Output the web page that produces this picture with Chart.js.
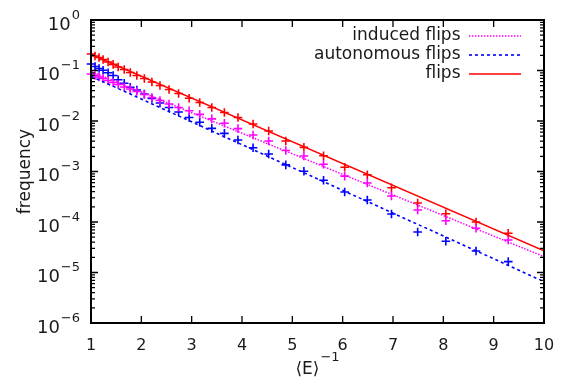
<!DOCTYPE html>
<html>
<head>
<meta charset="utf-8">
<script src="https://cdn.jsdelivr.net/npm/chart.js@4"></script>
<style>
  html, body { margin: 0; padding: 0; background: #fff; }
  #wrap { width: 567px; height: 386px; position: relative; }
</style>
</head>
<body>
<div id="wrap"><canvas id="flipChart"></canvas></div>
<script>
// data
const xVals = [1.00, 1.08, 1.16, 1.24, 1.34, 1.44, 1.54, 1.66, 1.78, 1.91, 2.06, 2.21, 2.37, 2.55, 2.74, 2.95,
               3.16, 3.40, 3.65, 3.92, 4.22, 4.53, 4.87, 5.23, 5.62, 6.04, 6.49, 6.97, 7.49, 8.05, 8.65, 9.29];
const flips = [0.212, 0.194, 0.181, 0.165, 0.147, 0.132, 0.117, 0.105, 0.0913, 0.0796, 0.0694, 0.0592, 0.0504, 0.0421, 0.0351, 0.0282,
               0.0232, 0.0185, 0.0147, 0.0117, 0.00872, 0.00634, 0.00402, 0.00301, 0.00205, 0.00121, 0.00086, 0.000478, 0.000238, 0.000146, 0.000100, 0.0000597];
const induced = [0.0853, 0.0796, 0.0744, 0.0694, 0.0634, 0.0579, 0.0528, 0.0471, 0.0430, 0.0384, 0.0335, 0.0292, 0.0255, 0.0217, 0.0185, 0.0160,
                 0.0135, 0.0110, 0.0090, 0.00705, 0.00528, 0.00402, 0.00261, 0.00203, 0.00139, 0.00081, 0.00059, 0.000327, 0.000173, 0.000106, 0.000075, 0.000044];
const autonomous = [0.1345, 0.120, 0.1096, 0.1014, 0.0900, 0.0796, 0.0654, 0.0561, 0.0465, 0.0411, 0.0343, 0.0279, 0.0227, 0.0185, 0.0151, 0.0117,
                    0.00942, 0.00716, 0.00570, 0.00421, 0.00296, 0.00222, 0.00135, 0.00101, 0.00067, 0.000393, 0.000273, 0.000144, 0.0000634, 0.0000415, 0.0000267, 0.0000164];

// fitted lines (end points)
const fitX = [1, 10];
const flipsFit = [0.207, 0.000027];
const inducedFit = [0.0955, 0.0000206];
const autonomousFit = [0.077, 0.0000066];

// y tick labels: 10 with an exponent
const yTicks = [1e-6, 1e-5, 1e-4, 1e-3, 1e-2, 1e-1, 1];
const yTickExps = ['−6', '−5', '−4', '−3', '−2', '−1', '0'];
const xTitle = '⟨E⟩';
const xTitleExp = '−1';

const FONT = "'DejaVu Sans', sans-serif";
const toXY = (xs, ys) => xs.map((x, i) => ({ x: x, y: ys[i] }));

Chart.defaults.font.family = FONT;
Chart.defaults.color = '#1a1a1a';

function fitSet(label, ys, color, width, dash) {
    return { label: label, data: toXY(fitX, ys), showLine: true, borderColor: color, backgroundColor: color,
             borderWidth: width, borderDash: dash, pointRadius: 0, pointStyle: 'line', fill: false };
}
function pointSet(label, ys, color) {
    return { label: label, data: toXY(xVals, ys), showLine: false, borderColor: color, backgroundColor: color,
             pointStyle: 'cross', pointRadius: 4.3, borderWidth: 1.6, clip: false, isPoints: true };
}

// inward tick marks + closed frame, gnuplot style
const frameTicks = {
    id: 'frameTicks',
    afterDatasetsDraw(chart) {
        const { ctx, chartArea: a, scales: { x, y } } = chart;
        ctx.save();
        ctx.strokeStyle = '#000';
        ctx.lineWidth = 1.3;
        ctx.beginPath();
        x.ticks.forEach(t => {
            const px = x.getPixelForValue(t.value);
            ctx.moveTo(px, a.bottom); ctx.lineTo(px, a.bottom - 7);
            ctx.moveTo(px, a.top); ctx.lineTo(px, a.top + 7);
        });
        y.ticks.forEach(t => {
            const py = y.getPixelForValue(t.value);
            ctx.moveTo(a.left, py); ctx.lineTo(a.left + 7, py);
            ctx.moveTo(a.right, py); ctx.lineTo(a.right - 7, py);
        });
        for (let d = 0; d < yTicks.length - 1; d++) {
            for (let k = 2; k < 10; k++) {
                const py = y.getPixelForValue(yTicks[d] * k);
                ctx.moveTo(a.left, py); ctx.lineTo(a.left + 4, py);
                ctx.moveTo(a.right, py); ctx.lineTo(a.right - 4, py);
            }
        }
        ctx.stroke();
        ctx.lineWidth = 2;
        ctx.strokeRect(a.left, a.top, a.width, a.height);
        ctx.restore();
    }
};

// y tick labels and x title with real superscripts
const supLabels = {
    id: 'supLabels',
    afterDraw(chart) {
        const { ctx, chartArea: a, scales: { y } } = chart;
        ctx.save();
        ctx.fillStyle = '#1a1a1a';
        ctx.textBaseline = 'alphabetic';
        ctx.textAlign = 'left';
        yTicks.forEach((v, i) => {
            const py = y.getPixelForValue(v);
            ctx.font = '13px ' + FONT;
            const ew = ctx.measureText(yTickExps[i]).width;
            ctx.font = '18px ' + FONT;
            const bw = ctx.measureText('10').width;
            const right = a.left - 11;
            ctx.fillText('10', right - ew - bw - 1, py + 9.5);
            ctx.font = '13px ' + FONT;
            ctx.fillText(yTickExps[i], right - ew, py - 1.5);
        });
        ctx.font = '17px ' + FONT;
        const tw = ctx.measureText(xTitle).width;
        ctx.font = '13px ' + FONT;
        const ew = ctx.measureText(xTitleExp).width;
        const cx = (a.left + a.right) / 2;
        const x0 = cx - (tw + ew + 1) / 2;
        ctx.font = '17px ' + FONT;
        ctx.fillText(xTitle, x0, 374);
        ctx.font = '13px ' + FONT;
        ctx.fillText(xTitleExp, x0 + tw + 1, 361);
        ctx.restore();
    }
};

// move the legend box to the top right corner inside the plot
const legendCorner = {
    id: 'legendCorner',
    afterLayout(chart) {
        const lg = chart.legend;
        const a = chart.chartArea;
        lg.left = a.right - 23 + 2 - lg.width;
        lg.right = lg.left + lg.width;
        lg.top = a.top + 5.5;
        lg.bottom = a.bottom;
    }
};

new Chart(document.getElementById('flipChart'), {
    type: 'scatter',
    data: {
        datasets: [
            fitSet('induced flips', inducedFit, '#ff00ff', 1.5, [1.5, 1.5]),
            fitSet('autonomous flips', autonomousFit, '#0000ff', 1.6, [3, 3]),
            fitSet('flips', flipsFit, '#ff0000', 1.5, []),
            pointSet('induced', induced, '#ff00ff'),
            pointSet('autonomous', autonomous, '#0000ff'),
            pointSet('all', flips, '#ff0000')
        ]
    },
    options: {
        responsive: true,
        maintainAspectRatio: false,
        animation: false,
        layout: { padding: { left: 0, right: 23, top: 20, bottom: 0 } },
        plugins: {
            tooltip: { enabled: false },
            legend: {
                position: 'chartArea',
                align: 'start',
                rtl: true,
                labels: {
                    usePointStyle: true,
                    pointStyle: 'line',
                    pointStyleWidth: 52,
                    padding: 2,
                    font: { size: 17 },
                    color: '#1a1a1a',
                    generateLabels: chart => Chart.defaults.plugins.legend.labels.generateLabels(chart).map(item => {
                        const ds = chart.data.datasets[item.datasetIndex];
                        item.lineDash = ds.borderDash;
                        item.lineWidth = ds.borderWidth;
                        item.strokeStyle = ds.borderColor;
                        return item;
                    }),
                    filter: (item, data) => !data.datasets[item.datasetIndex].isPoints
                }
            }
        },
        scales: {
            x: {
                type: 'linear',
                min: 1,
                max: 10,
                afterFit: s => { s.height = 63; },
                grid: { display: false },
                border: { display: false },
                ticks: { stepSize: 1, padding: 5, font: { size: 16 }, maxRotation: 0 }
            },
            y: {
                type: 'logarithmic',
                min: 1e-6,
                max: 1,
                afterFit: s => { s.width = 91; },
                afterBuildTicks: s => { s.ticks = yTicks.map(v => ({ value: v })); },
                grid: { display: false },
                border: { display: false },
                ticks: { display: false },
                title: { display: true, text: 'frequency', font: { size: 17 }, padding: { top: 15, bottom: 0 } }
            }
        }
    },
    plugins: [frameTicks, supLabels, legendCorner]
});
</script>
</body>
</html>
